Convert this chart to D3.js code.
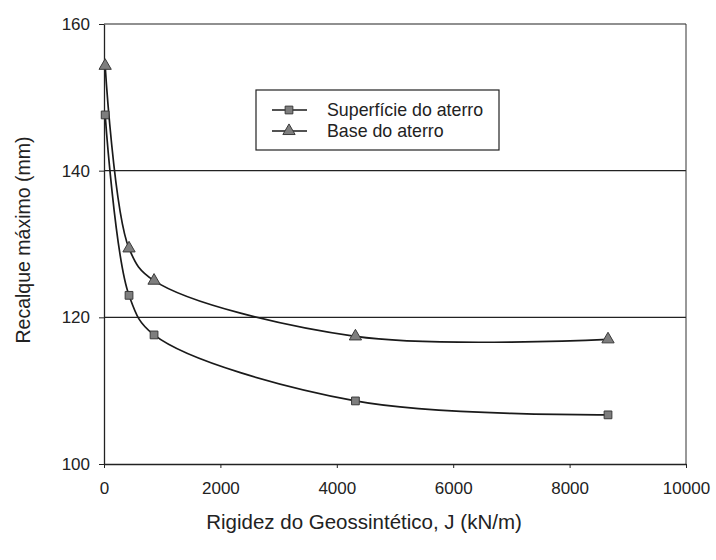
<!DOCTYPE html>
<html><head><meta charset="utf-8">
<script src="https://cdn.jsdelivr.net/npm/d3@7"></script>
<style>body{margin:0;background:#fff}svg{display:block}text{font-family:"Liberation Sans",Arial,sans-serif;fill:#222}</style>
</head><body><svg id="c" width="716" height="560"></svg>
<script>
const J = [20, 430, 860, 4320, 8660];
const superficie = [147.6, 123.0, 117.6, 108.6, 106.7];
const base = [154.3, 129.4, 125.0, 117.4, 117.0];
const seriesNames = ["Superfície do aterro", "Base do aterro"];
const xTicks = [0, 2000, 4000, 6000, 8000, 10000];
const yTicks = [100, 120, 140, 160];

const svg = d3.select("#c");
const L = 104, R = 686, T = 24, B = 464;
const x = d3.scaleLinear().domain([0, 10000]).range([L, R]);
const y = d3.scaleLinear().domain([100, 160]).range([B, T]);
const FF = '"Liberation Sans",Arial,sans-serif';

svg.append("g").selectAll("line").data(yTicks.filter(d => d > 100)).join("line")
  .attr("x1", L).attr("x2", R).attr("y1", d => y(d)).attr("y2", d => y(d))
  .attr("stroke", "#222").attr("stroke-width", 1.2);
svg.append("line").attr("x1", R).attr("x2", R).attr("y1", T).attr("y2", B)
  .attr("stroke", "#333").attr("stroke-width", 1);

const xAxis = svg.append("g").attr("transform", `translate(0,${B})`)
  .call(d3.axisBottom(x).tickValues(xTicks).tickFormat(d3.format("d")).tickSize(4).tickSizeOuter(0).tickPadding(14));
const yAxis = svg.append("g").attr("transform", `translate(${L},0)`)
  .call(d3.axisLeft(y).tickValues(yTicks).tickFormat(d3.format("d")).tickSize(5).tickSizeOuter(0).tickPadding(9));
[xAxis, yAxis].forEach(g => {
  g.select(".domain").attr("stroke", "#222").attr("stroke-width", 1.3);
  g.selectAll(".tick line").attr("stroke", "#222");
  g.selectAll(".tick text").attr("font-size", 17).attr("fill", "#222").style("font-family", FF);
});

const line = d3.line().x(d => x(d[0])).y(d => y(d[1])).curve(d3.curveCatmullRom.alpha(0.5));
const s1 = J.map((j, i) => [j, superficie[i]]);
const s2 = J.map((j, i) => [j, base[i]]);
[s1, s2].forEach(s => svg.append("path").datum(s).attr("d", line)
  .attr("fill", "none").attr("stroke", "#1a1a1a").attr("stroke-width", 1.7));

const sq = d3.symbol().type(d3.symbolSquare).size(60);
const tri = d3.symbol().type(d3.symbolTriangle).size(65);
svg.append("g").selectAll("path").data(s1).join("path")
  .attr("d", sq).attr("transform", d => `translate(${x(d[0])},${y(d[1])})`)
  .attr("fill", "#7e7e7e").attr("stroke", "#3a3a3a").attr("stroke-width", 1);
svg.append("g").selectAll("path").data(s2).join("path")
  .attr("d", tri).attr("transform", d => `translate(${x(d[0])},${y(d[1])})`)
  .attr("fill", "#7e7e7e").attr("stroke", "#3a3a3a").attr("stroke-width", 1);

const lg = svg.append("g");
lg.append("rect").attr("x", 256).attr("y", 90).attr("width", 243).attr("height", 60)
  .attr("fill", "#fff").attr("stroke", "#222").attr("stroke-width", 1.2);
[sq, tri].forEach((sym, i) => {
  const yy = 110 + i * 21;
  lg.append("line").attr("x1", 272).attr("x2", 307).attr("y1", yy).attr("y2", yy)
    .attr("stroke", "#1a1a1a").attr("stroke-width", 1.6);
  lg.append("path").attr("d", sym).attr("transform", `translate(289,${yy})`)
    .attr("fill", "#7e7e7e").attr("stroke", "#3a3a3a");
  lg.append("text").attr("x", 327).attr("y", yy + 6).attr("font-size", 17.8).text(seriesNames[i]);
});

svg.append("text").attr("x", 364).attr("y", 529).attr("text-anchor", "middle")
  .attr("font-size", 20.5).text("Rigidez do Geossintético, J (kN/m)");
svg.append("text").attr("transform", "translate(30,240) rotate(-90)").attr("text-anchor", "middle")
  .attr("font-size", 19.5).text("Recalque máximo (mm)");
</script></body></html>
